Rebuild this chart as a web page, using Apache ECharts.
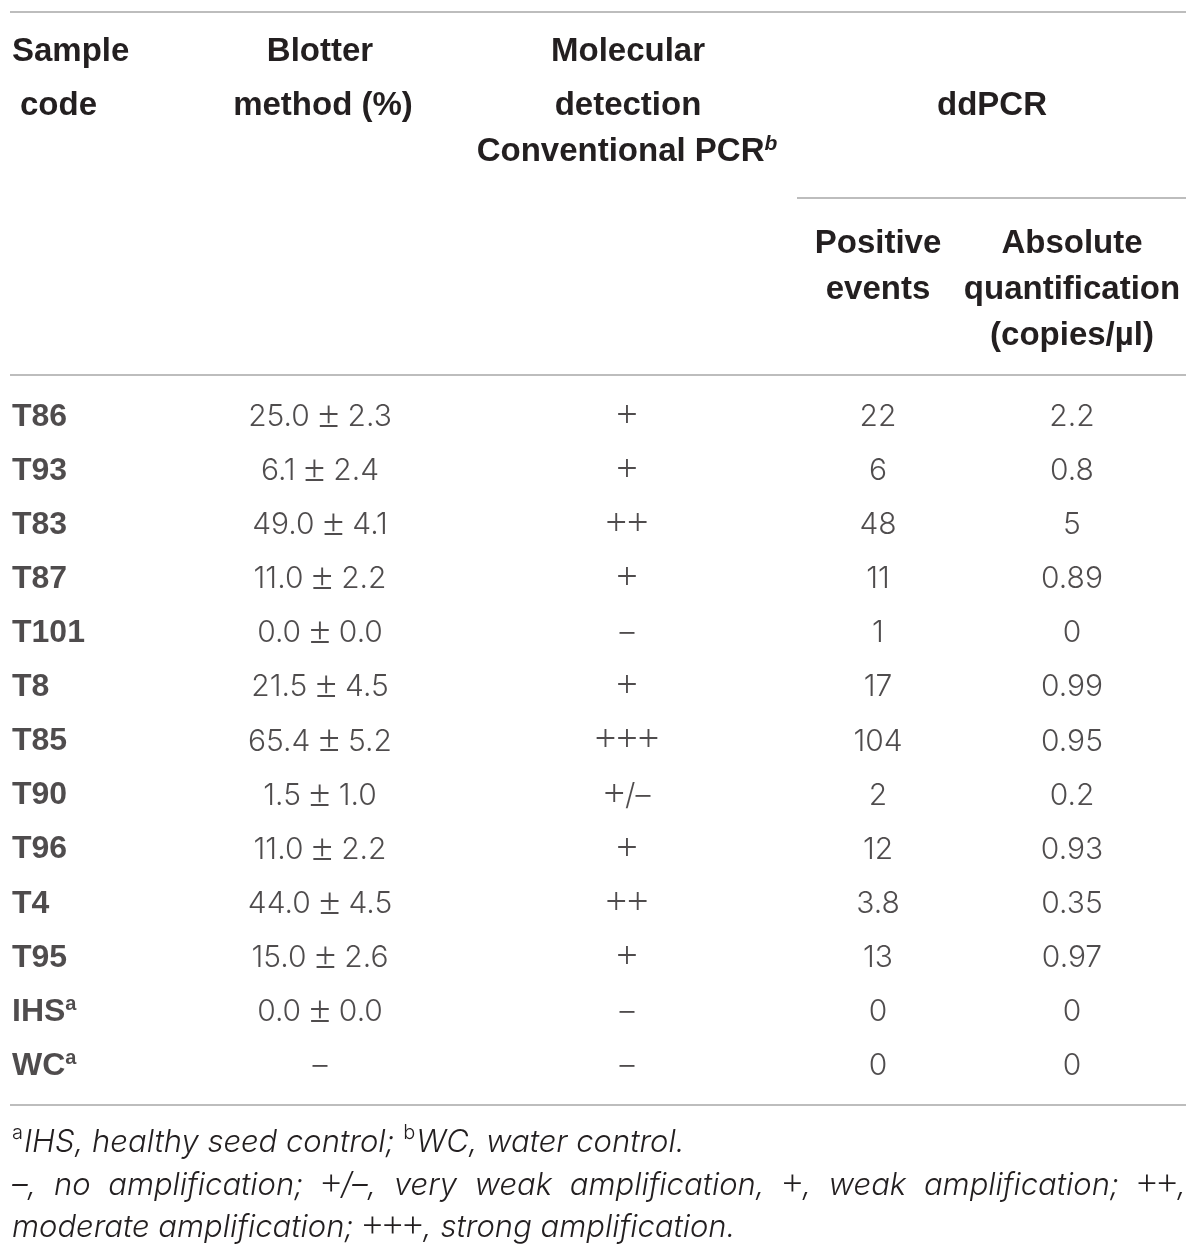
<!DOCTYPE html>
<html>
<head>
<meta charset="utf-8">
<script src="https://cdn.jsdelivr.net/npm/echarts@6/dist/echarts.min.js"></script>
<style>
  html, body { margin: 0; padding: 0; background: #fff; }
  #main { width: 1200px; height: 1259px; }
</style>
</head>
<body>
<div id="main"></div>
<script>
// table values
var samples = ['T86', 'T93', 'T83', 'T87', 'T101', 'T8', 'T85', 'T90', 'T96', 'T4', 'T95', 'IHS', 'WC'];
var sampleMarks = ['', '', '', '', '', '', '', '', '', '', '', 'a', 'a'];
var blotter = ['25.0 ± 2.3', '6.1 ± 2.4', '49.0 ± 4.1', '11.0 ± 2.2', '0.0 ± 0.0', '21.5 ± 4.5',
  '65.4 ± 5.2', '1.5 ± 1.0', '11.0 ± 2.2', '44.0 ± 4.5', '15.0 ± 2.6', '0.0 ± 0.0', '–'];
var pcr = ['+', '+', '++', '+', '–', '+', '+++', '+/–', '+', '++', '+', '–', '–'];
var positiveEvents = ['22', '6', '48', '11', '1', '17', '104', '2', '12', '3.8', '13', '0', '0'];
var absoluteQuant = ['2.2', '0.8', '5', '0.89', '0', '0.99', '0.95', '0.2', '0.93', '0.35', '0.97', '0', '0'];

var footLine1 = [['a', true], ['IHS, healthy seed control; ', false], ['b', true], ['WC, water control.', false]];
var footLine2 = ['–,', 'no', 'amplification;', '+/–,', 'very', 'weak', 'amplification,', '+,', 'weak', 'amplification;', '++,'];
var footLine3 = 'moderate amplification; +++, strong amplification.';

// layout
var colX = { sample: 12, blotter: 320, pcr: 627, pos: 878, abs: 1072 };
var TXT = '#231f20';
var RULE = '#bdbdbd';
var BOLD = 'bold 33px "Liberation Sans", Arial, sans-serif';
var SERIF = '"Liberation Serif"';
var SYM = /[+±]/;

var bodyN = { fontFamily: 'Inter', fontWeight: 300, fontSize: 30 };
var bodyP = { fontFamily: SERIF, fontWeight: 'normal', fontSize: 38 };
var footN = { fontFamily: 'Inter', fontWeight: 300, fontStyle: 'italic', fontSize: 31 };
var footP = { fontFamily: SERIF, fontWeight: 'normal', fontStyle: 'normal', fontSize: 36 };

function css(s) {
  return (s.fontStyle || 'normal') + ' ' + s.fontWeight + ' ' + s.fontSize + 'px ' + s.fontFamily;
}

var chart = echarts.init(document.getElementById('main'));
var ctx = document.createElement('canvas').getContext('2d');

// split text into plain / symbol runs -> rich string
function runs(s) {
  var out = [], cur = '', curSym = null;
  for (var i = 0; i < s.length; i++) {
    var isSym = SYM.test(s[i]);
    if (curSym !== null && isSym !== curSym) { out.push([cur, curSym]); cur = ''; }
    cur += s[i]; curSym = isSym;
  }
  if (cur) out.push([cur, curSym]);
  return out;
}
function richStr(s) {
  return runs(s).map(function (r) { return '{' + (r[1] ? 'p' : 'n') + '|' + r[0] + '}'; }).join('');
}
function measure(s, n, p) {
  return runs(s).reduce(function (w, r) {
    ctx.font = css(r[1] ? p : n);
    return w + ctx.measureText(r[0]).width;
  }, 0);
}

var bodyRich = {
  n: Object.assign({ color: TXT, lineHeight: 40, verticalAlign: 'middle' }, bodyN),
  p: Object.assign({ color: TXT, lineHeight: 40, verticalAlign: 'middle' }, bodyP)
};
var footRich = {
  n: Object.assign({ fill: TXT, lineHeight: 40, verticalAlign: 'middle' }, footN),
  p: Object.assign({ fill: TXT, lineHeight: 40, verticalAlign: 'middle' }, footP)
};

function colSeries(name, x, values) {
  return {
    name: name,
    type: 'scatter',
    symbolSize: 1,
    itemStyle: { color: 'rgba(0,0,0,0)' },
    silent: true,
    data: values.map(function (v, i) { return [x, samples[i], v, i]; }),
    label: {
      show: true,
      position: 'inside',
      align: 'center',
      verticalAlign: 'middle',
      formatter: function (p) { return richStr(p.data[2]); },
      rich: bodyRich
    }
  };
}

var sampleSeries = colSeries('sample', colX.sample, samples);
sampleSeries.label = {
  show: true,
  position: 'inside',
  align: 'left',
  verticalAlign: 'middle',
  formatter: function (p) {
    var m = sampleMarks[p.data[3]];
    return '{b|' + p.data[2] + '}' + (m ? '{s|' + m + '}' : '');
  },
  rich: {
    b: { fontFamily: '"Liberation Sans", Arial', fontWeight: 'bold', fontSize: 32, color: TXT, lineHeight: 34 },
    s: { fontFamily: '"Liberation Sans", Arial', fontWeight: 'bold', fontSize: 20, color: TXT, verticalAlign: 'top', lineHeight: 34 }
  }
};

function head(text, x, y, align) {
  return {
    type: 'text', x: x, y: y,
    style: { text: text, font: BOLD, fill: TXT, align: align || 'center', verticalAlign: 'middle' }
  };
}
function rule(x1, x2, y) {
  return { type: 'line', shape: { x1: x1, y1: y, x2: x2, y2: y }, style: { stroke: RULE, lineWidth: 2 } };
}
function footText(s, x, y) {
  return { type: 'text', x: x, y: y, style: { text: richStr(s), rich: footRich, verticalAlign: 'middle' } };
}

// footnotes
var supCss = '300 20px Inter';
var footEls = [];
var fx = 12;
footLine1.forEach(function (seg) {
  var f = seg[1] ? supCss : css(footN);
  ctx.font = f;
  footEls.push({
    type: 'text', x: fx, y: seg[1] ? 1133 : 1143,
    style: { text: seg[0], font: f, fill: TXT, verticalAlign: 'middle' }
  });
  fx += ctx.measureText(seg[0]).width + (seg[1] ? 1 : 0);
});
// middle line is justified to the table width
var widths = footLine2.map(function (w) { return measure(w, footN, footP); });
var total = widths.reduce(function (a, b) { return a + b; }, 0);
var gap = (1186 - 12 - total) / (footLine2.length - 1);
var wx = 12;
footLine2.forEach(function (w, i) {
  footEls.push(footText(w, wx, 1186));
  wx += widths[i] + gap;
});
footEls.push(footText(footLine3, 12, 1228));

var option = {
  animation: false,
  backgroundColor: '#fff',
  grid: { left: 0, right: 0, top: 390, height: 703 },
  xAxis: { type: 'value', min: 0, max: 1200, show: false },
  yAxis: { type: 'category', data: samples, inverse: true, show: false },
  series: [
    sampleSeries,
    colSeries('blotter', colX.blotter, blotter),
    colSeries('pcr', colX.pcr, pcr),
    colSeries('pos', colX.pos, positiveEvents),
    colSeries('abs', colX.abs, absoluteQuant)
  ],
  graphic: [
    rule(10, 1186, 12),
    head('Sample', 12, 52, 'left'),
    head('code', 20, 106, 'left'),
    head('Blotter', 320, 52),
    head('method (%)', 323, 106),
    head('Molecular', 628, 52),
    head('detection', 628, 106),
    {
      type: 'text', x: 627, y: 152,
      style: {
        text: '{m|Conventional PCR}{s|b}', align: 'center', verticalAlign: 'middle',
        rich: {
          m: { font: BOLD, fill: TXT, lineHeight: 36 },
          s: { font: 'italic bold 21px "Liberation Sans", Arial', fill: TXT, verticalAlign: 'top', lineHeight: 36 }
        }
      }
    },
    head('ddPCR', 992, 106),
    rule(797, 1186, 198),
    head('Positive', 878, 244),
    head('events', 878, 290),
    head('Absolute', 1072, 244),
    head('quantification', 1072, 290),
    head('(copies/µl)', 1072, 336),
    rule(10, 1186, 375),
    rule(10, 1186, 1105)
  ].concat(footEls)
};

chart.setOption(option);
</script>
</body>
</html>
